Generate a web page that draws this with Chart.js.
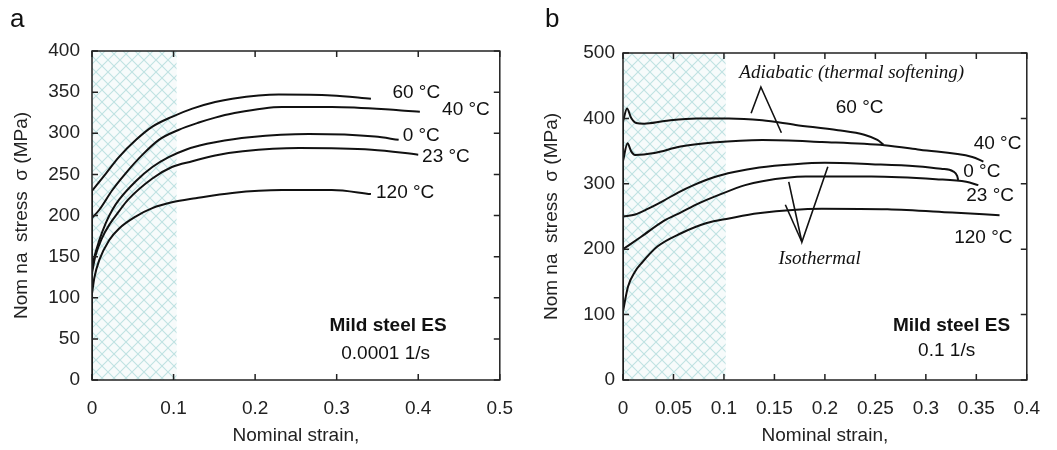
<!DOCTYPE html>
<html lang="en">
<head>
  <meta charset="UTF-8">
  <title>Mild steel ES - nominal stress vs strain</title>
  <script src="https://cdn.jsdelivr.net/npm/chart.js"></script>
  <style>
    body { margin: 0; background: #fff; }
    #wrap { position: relative; width: 1057px; height: 450px; }
    .panel { position: absolute; top: 0; height: 450px; }
  </style>
</head>
<body>
  <div id="wrap">
    <div class="panel" style="left:0;width:530px"><canvas id="chartA" width="530" height="450"></canvas></div>
    <div class="panel" style="left:530px;width:527px"><canvas id="chartB" width="527" height="450"></canvas></div>
  </div>

  <script>
    // ---- panel a : 0.0001 1/s  (strain, stress MPa) ----
    // first two points = elastic rise along strain 0, rest = plastic curve
    const a60 = [[0,0],[0,230],[0.017,251],[0.033,271],[0.054,292],[0.074,308],[0.098,320],[0.123,330],[0.151,338],[0.172,342],[0.229,347],[0.294,346],[0.342,342]];
    const a40 = [[0,0],[0,197],[0.009,207],[0.025,231],[0.041,251],[0.062,274],[0.082,292],[0.106,304],[0.131,313],[0.151,319],[0.172,324],[0.233,332],[0.294,332],[0.376,328],[0.402,326]];
    const a0 = [[0,0],[0,135],[0.003,150],[0.009,170],[0.017,191],[0.025,207],[0.033,219],[0.054,242],[0.074,259],[0.094,271],[0.115,280],[0.132,285],[0.151,289],[0.193,295],[0.266,299],[0.347,296],[0.376,292]];
    const a23 = [[0,0],[0,130],[0.004,150],[0.012,172],[0.022,190],[0.033,205],[0.044,219],[0.074,245],[0.098,259],[0.123,266],[0.151,273],[0.185,278],[0.254,282],[0.343,280],[0.4,274]];
    const a120 = [[0,0],[0,105],[0.003,125],[0.009,146],[0.021,170],[0.033,184],[0.054,199],[0.074,209],[0.098,216],[0.127,221],[0.172,227.5],[0.233,231],[0.294,231],[0.342,226]];

    // ---- panel b : 0.1 1/s ----
    const b60 = [[0,0],[0,395],[0.004,415],[0.008,401],[0.013,393],[0.021,392],[0.041,396],[0.073,400],[0.105,400],[0.138,397],[0.171,390],[0.213,382],[0.239,375],[0.252,367],[0.258,360]];
    const b40 = [[0,0],[0,335],[0.0045,362],[0.008,350],[0.012,344],[0.031,347],[0.057,357],[0.089,363],[0.138,367],[0.197,364],[0.259,359],[0.294,352],[0.346,341],[0.357,334]];
    const b0 = [[0,0],[0,250],[0.012,253],[0.025,262],[0.04,274],[0.055,287],[0.07,298],[0.09,310],[0.11,318],[0.135,325],[0.17,330],[0.2,332],[0.246,330],[0.29,327],[0.315,323],[0.327,319],[0.331,312],[0.332,306]];
    const b23 = [[0,0],[0,200],[0.018,219],[0.04,243],[0.057,256],[0.075,270],[0.095,283],[0.121,298],[0.138,304],[0.181,311],[0.246,311],[0.31,307],[0.34,303],[0.352,298]];
    const b120 = [[0,0],[0,105],[0.005,143],[0.012,166],[0.018,178],[0.034,204],[0.057,224],[0.083,240],[0.105,247],[0.134,255],[0.197,262],[0.262,261],[0.326,256],[0.373,252]];

    // axis ranges / ticks
    const xTicksA = { min: 0, max: 0.5, step: 0.1 };
    const yTicksA = { min: 0, max: 400, step: 50 };
    const xTicksB = { min: 0, max: 0.4, step: 0.05 };
    const yTicksB = { min: 0, max: 500, step: 100 };

    const SANS = '"Liberation Sans", Arial, sans-serif';
    const SERIF = '"Liberation Serif", "Times New Roman", serif';

    // text notes: [text, strain, stress, font]
    const notesA = [
      ['60 °C', 0.3976, 349, '19px ' + SANS],
      ['40 °C', 0.4585, 328, '19px ' + SANS],
      ['0 °C', 0.4037, 297, '19px ' + SANS],
      ['23 °C', 0.434, 271, '19px ' + SANS],
      ['120 °C', 0.384, 228, '19px ' + SANS],
      ['Mild steel ES', 0.363, 66, 'bold 19px ' + SANS],
      ['0.0001 1/s', 0.36, 32, '19px ' + SANS]
    ];
    const notesB = [
      ['Adiabatic (thermal softening)', 0.2266, 469, 'italic 19px ' + SERIF],
      ['60 °C', 0.2344, 417, '19px ' + SANS],
      ['40 °C', 0.371, 361, '19px ' + SANS],
      ['0 °C', 0.3554, 319, '19px ' + SANS],
      ['23 °C', 0.3637, 282, '19px ' + SANS],
      ['120 °C', 0.357, 218, '19px ' + SANS],
      ['Isothermal', 0.1947, 185, 'italic 19px ' + SERIF],
      ['Mild steel ES', 0.3254, 83, 'bold 19px ' + SANS],
      ['0.1 1/s', 0.3206, 44, '19px ' + SANS]
    ];
    // pointer lines in data coords
    const pointersB = [
      [[0.1269, 408], [0.1366, 448], [0.1569, 378]],
      [[0.1642, 303], [0.1772, 211], [0.2029, 326]],
      [[0.1608, 268], [0.1772, 211]]
    ];

    // cross hatch tile
    const tile = document.createElement('canvas');
    tile.width = 12; tile.height = 12;
    (function () {
      const g = tile.getContext('2d');
      g.fillStyle = '#f7fbfb';
      g.fillRect(0, 0, 12, 12);
      g.strokeStyle = '#bfe2e2';
      g.lineWidth = 1.1;
      g.beginPath();
      g.moveTo(-1, -1); g.lineTo(13, 13);
      g.moveTo(13, -1); g.lineTo(-1, 13);
      g.stroke();
    })();

    const hatchPlugin = {
      id: 'hatch',
      beforeDatasetsDraw(chart, args, opts) {
        const { ctx, chartArea: a, scales: { x } } = chart;
        const r = x.getPixelForValue(opts.to);
        ctx.save();
        ctx.fillStyle = ctx.createPattern(tile, 'repeat');
        ctx.fillRect(a.left, a.top, r - a.left, a.bottom - a.top);
        ctx.restore();
      }
    };

    // frame with inward ticks on all four sides
    const framePlugin = {
      id: 'frame',
      afterDatasetsDraw(chart) {
        const { ctx, chartArea: a, scales: { x, y } } = chart;
        const len = 6;
        ctx.save();
        ctx.strokeStyle = '#222';
        ctx.lineWidth = 1.5;
        ctx.strokeRect(a.left, a.top, a.right - a.left, a.bottom - a.top);
        ctx.beginPath();
        x.ticks.forEach(t => {
          const px = x.getPixelForValue(t.value);
          ctx.moveTo(px, a.bottom); ctx.lineTo(px, a.bottom - len);
          ctx.moveTo(px, a.top); ctx.lineTo(px, a.top + len);
        });
        y.ticks.forEach(t => {
          const py = y.getPixelForValue(t.value);
          ctx.moveTo(a.left, py); ctx.lineTo(a.left + len, py);
          ctx.moveTo(a.right, py); ctx.lineTo(a.right - len, py);
        });
        ctx.stroke();
        ctx.restore();
      }
    };

    const notesPlugin = {
      id: 'notes',
      afterDraw(chart, args, opts) {
        const { ctx, scales: { x, y } } = chart;
        ctx.save();
        ctx.fillStyle = '#111';
        ctx.textAlign = 'center';
        ctx.textBaseline = 'middle';
        (opts.texts || []).forEach(([txt, sx, sy, font]) => {
          ctx.font = font;
          ctx.fillText(txt, x.getPixelForValue(sx), y.getPixelForValue(sy));
        });
        ctx.strokeStyle = '#111';
        ctx.lineWidth = 1.6;
        (opts.lines || []).forEach(pts => {
          ctx.beginPath();
          pts.forEach(([sx, sy], i) => {
            const px = x.getPixelForValue(sx), py = y.getPixelForValue(sy);
            i ? ctx.lineTo(px, py) : ctx.moveTo(px, py);
          });
          ctx.stroke();
        });
        // panel letter
        ctx.font = '26px ' + SANS;
        ctx.textAlign = 'left';
        ctx.textBaseline = 'alphabetic';
        ctx.fillText(opts.letter, opts.letterX, 27);
        ctx.restore();
      }
    };

    function line(points, smooth) {
      return {
        data: points.map(([sx, sy]) => ({ x: sx, y: sy })),
        borderColor: '#111',
        borderWidth: 2,
        pointRadius: 0,
        fill: false,
        tension: 0,
        cubicInterpolationMode: smooth ? 'monotone' : 'default'
      };
    }

    // each curve: straight elastic part + smooth plastic part
    function curveSets(data) {
      return [line(data.slice(0, 2), false), line(data.slice(1), true)];
    }

    function buildChart(id, curves, xr, yr, box, plug) {
      const tickFont = { size: 19, family: SANS };
      return new Chart(document.getElementById(id), {
        type: 'line',
        data: { datasets: curves.flatMap(curveSets) },
        options: {
          responsive: false,
          animation: false,
          layout: { padding: { top: box.top, right: box.right, left: 0, bottom: 0 } },
          plugins: {
            legend: { display: false },
            tooltip: { enabled: false },
            hatch: { to: box.hatch },
            notes: plug
          },
          scales: {
            x: {
              type: 'linear', min: xr.min, max: xr.max,
              grid: { display: false, drawTicks: false },
              border: { display: false },
              ticks: {
                stepSize: xr.step, padding: 17, color: '#222', font: tickFont,
                callback: v => String(Math.round(v * 100) / 100)
              },
              title: { display: true, text: 'Nominal strain,', color: '#222', font: tickFont, padding: { top: 0, bottom: 3 } },
              afterFit(s) { s.height = 70; }
            },
            y: {
              type: 'linear', min: yr.min, max: yr.max,
              grid: { display: false, drawTicks: false },
              border: { display: false },
              ticks: { stepSize: yr.step, padding: box.ypad, color: '#222', font: tickFont },
              title: { display: true, text: 'Nom na  stress  σ (MPa)', color: '#222', font: tickFont, padding: { top: 10, bottom: 0 } },
              afterFit(s) { s.width = box.left; }
            }
          }
        },
        plugins: [hatchPlugin, framePlugin, notesPlugin]
      });
    }

    buildChart('chartA', [a60, a40, a0, a23, a120], xTicksA, yTicksA,
      { top: 51, right: 28, left: 92, ypad: 12, hatch: 0.1037 },
      { texts: notesA, lines: [], letter: 'a', letterX: 10 });

    buildChart('chartB', [b60, b40, b0, b23, b120], xTicksB, yTicksB,
      { top: 53, right: 21, left: 93, ypad: 8, hatch: 0.1017 },
      { texts: notesB, lines: pointersB, letter: 'b', letterX: 15 });
  </script>
</body>
</html>
